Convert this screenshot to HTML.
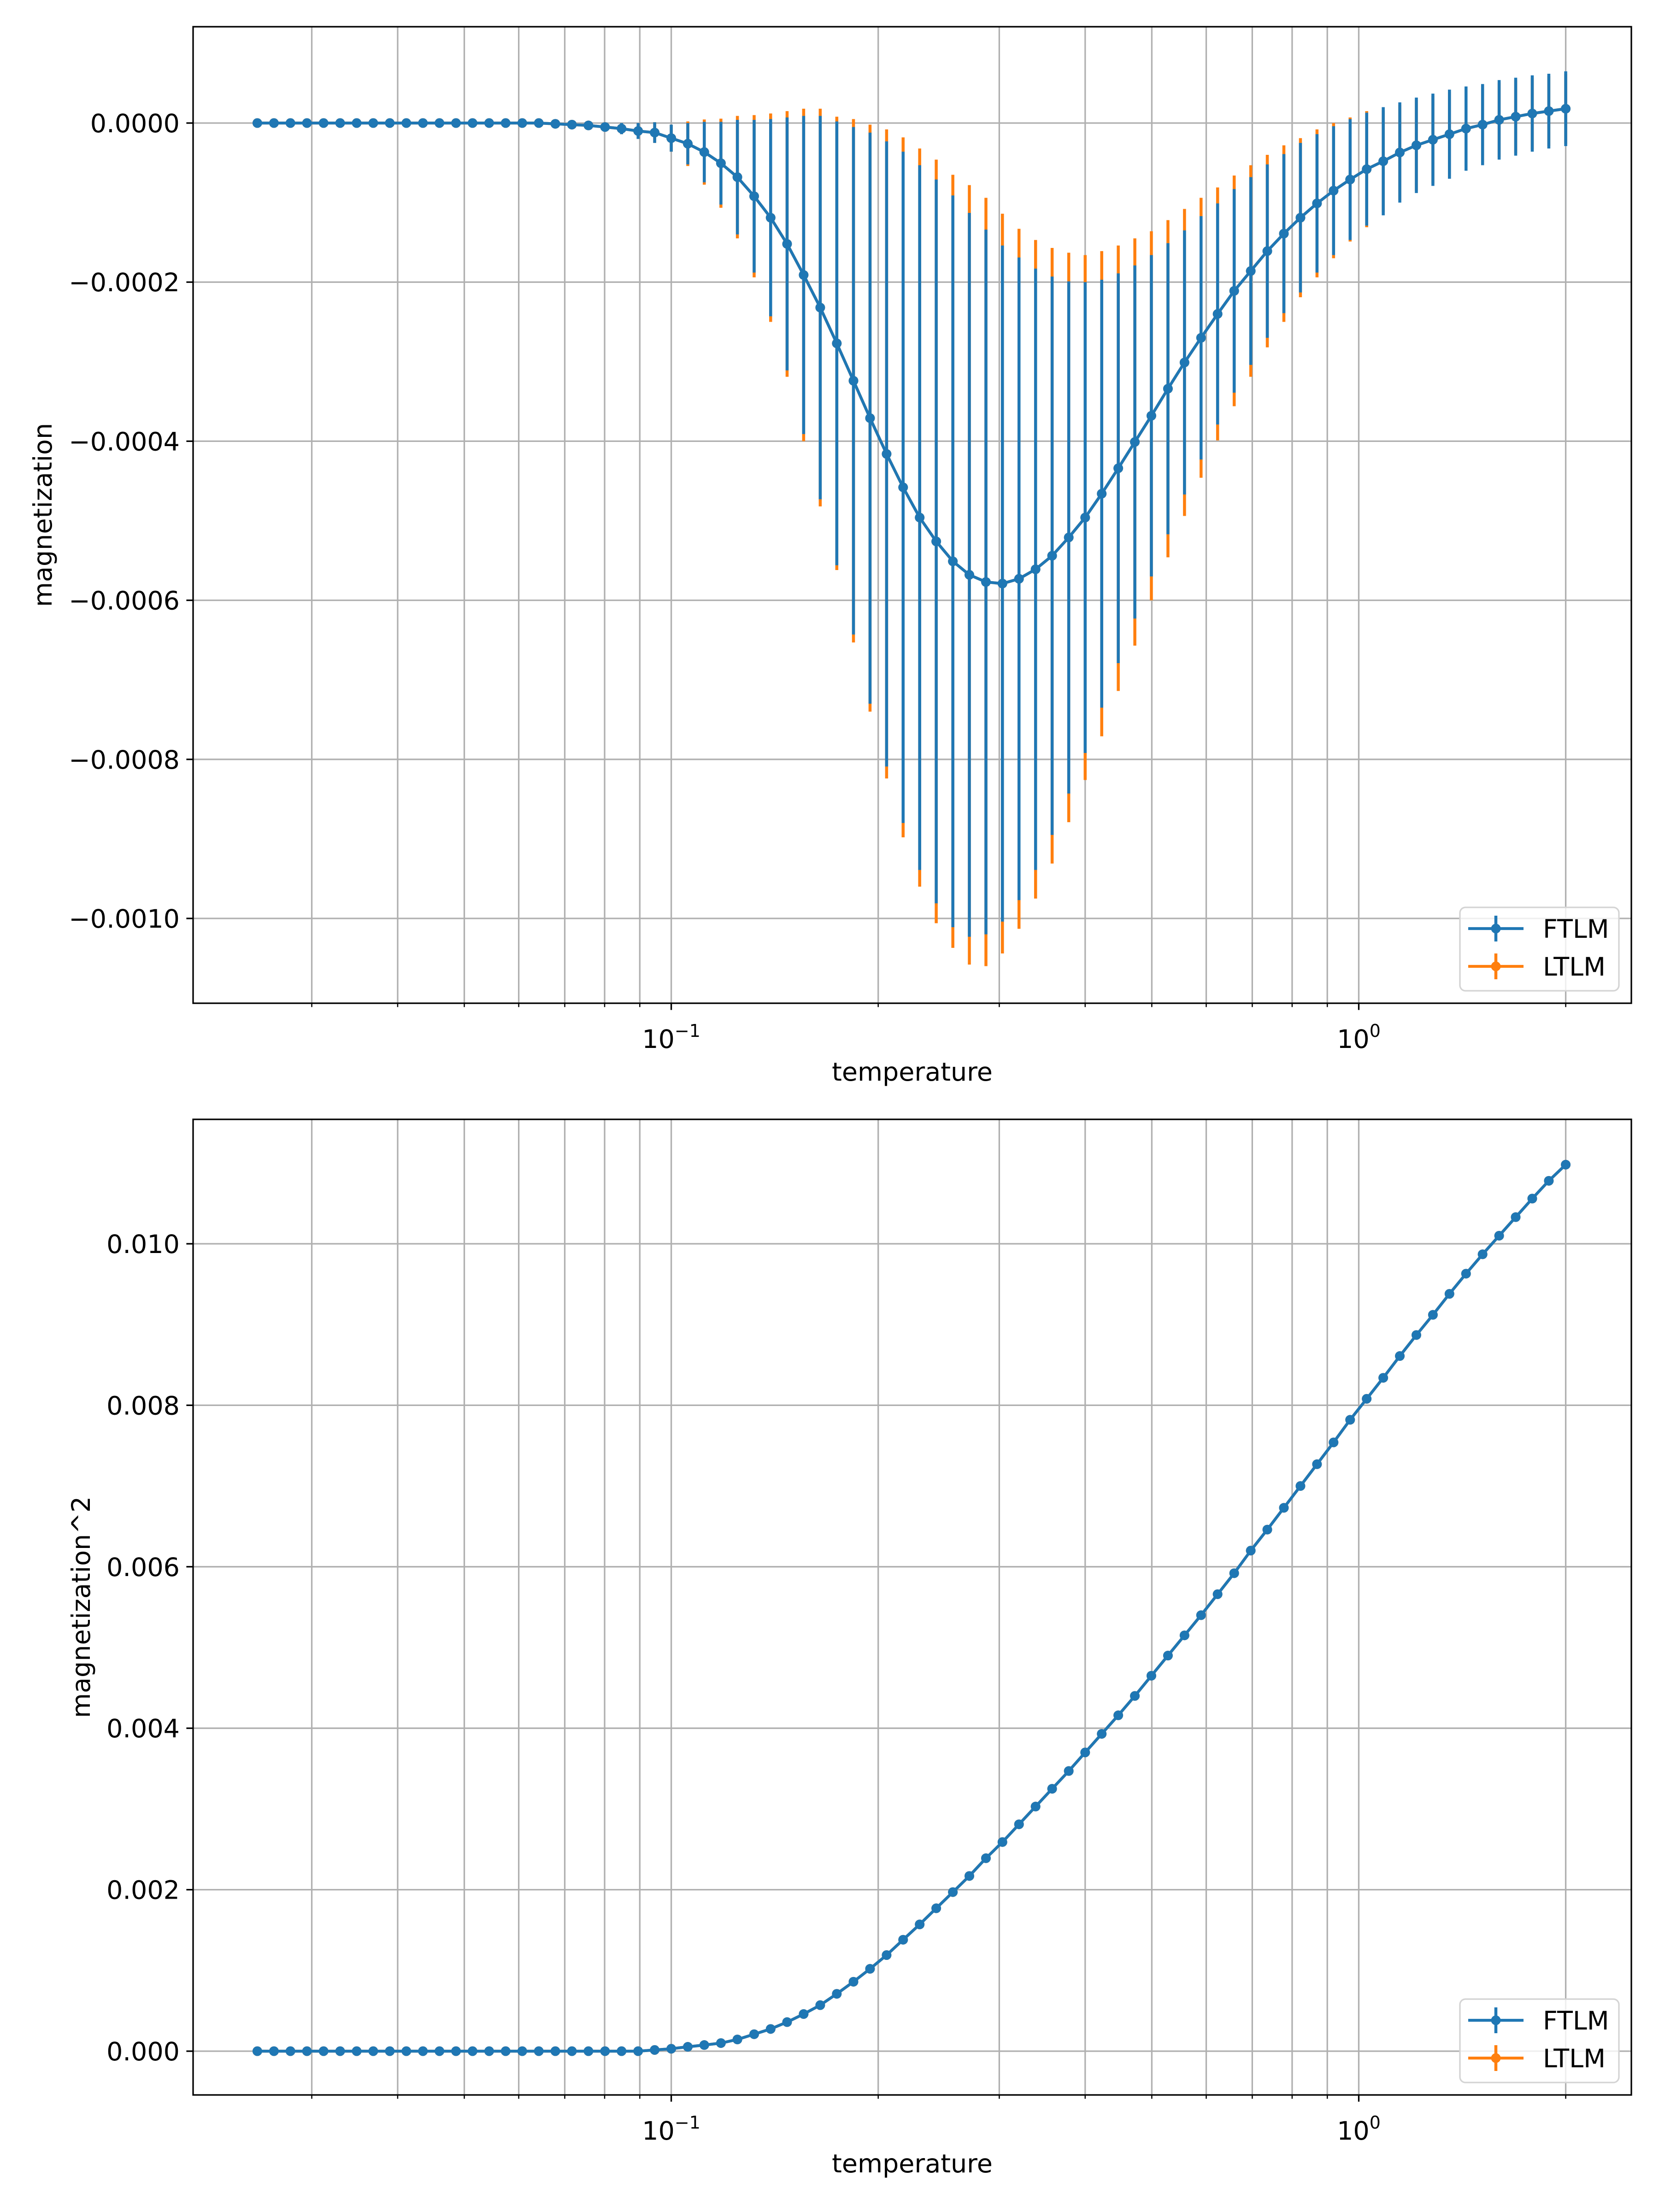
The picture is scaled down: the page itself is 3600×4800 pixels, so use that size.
<!DOCTYPE html>
<html><head><meta charset="utf-8"><style>
html,body{margin:0;padding:0;background:#fff;}
svg{display:block;font-family:"DejaVu Sans","Liberation Sans",sans-serif;}
</style></head><body>
<svg id="fig" width="3600" height="4800" viewBox="0 0 3600 4800" xmlns="http://www.w3.org/2000/svg">
<rect width="3600" height="4800" fill="#fff"/>
</svg>
<script>
const temperature=[0.025,0.02643,0.02793,0.02952,0.03121,0.03299,0.03487,0.03686,0.03896,0.04118,0.04353,0.04601,0.04863,0.05140,0.05434,0.05743,0.06071,0.06417,0.06783,0.07170,0.07578,0.08011,0.08467,0.08950,0.09460,0.1,0.1057,0.1117,0.1181,0.1248,0.1320,0.1395,0.1474,0.1558,0.1647,0.1741,0.1841,0.1946,0.2057,0.2174,0.2298,0.2429,0.2568,0.2714,0.2869,0.3032,0.3205,0.3388,0.3581,0.3786,0.4,0.4228,0.4469,0.4724,0.4993,0.5278,0.5579,0.5897,0.6233,0.6589,0.6965,0.7362,0.7782,0.8226,0.8695,0.9191,0.9715,1.0269,1.0855,1.1474,1.2128,1.2819,1.3550,1.4323,1.5140,1.6003,1.6915,1.7880,1.8900,2.0];
// magnetization in units of 1e-4
const magFTLM=[0,0,0,0,0,0,0,0,0,0,0,0,0,0,0,0,0,0,-0.01,-0.02,-0.03,-0.05,-0.07,-0.1,-0.12,-0.19,-0.26,-0.365,-0.505,-0.68,-0.92,-1.19,-1.52,-1.91,-2.32,-2.77,-3.24,-3.71,-4.16,-4.58,-4.96,-5.26,-5.51,-5.68,-5.77,-5.79,-5.73,-5.61,-5.44,-5.21,-4.96,-4.66,-4.34,-4.01,-3.68,-3.34,-3.01,-2.70,-2.40,-2.11,-1.86,-1.61,-1.39,-1.19,-1.01,-0.85,-0.71,-0.58,-0.48,-0.37,-0.28,-0.21,-0.14,-0.07,-0.02,0.04,0.08,0.12,0.15,0.18];
const magLTLM=magFTLM.slice();
const errFTLM=[0.005,0.005,0.005,0.005,0.005,0.005,0.005,0.005,0.005,0.005,0.005,0.005,0.005,0.005,0.005,0.005,0.01,0.015,0.02,0.03,0.04,0.05,0.07,0.1,0.13,0.17,0.26,0.38,0.52,0.72,0.96,1.24,1.59,2.0,2.41,2.79,3.19,3.59,3.93,4.22,4.43,4.55,4.6,4.55,4.43,4.25,4.04,3.78,3.51,3.22,2.96,2.69,2.45,2.22,2.02,1.83,1.66,1.53,1.39,1.28,1.18,1.09,1.0,0.94,0.87,0.81,0.76,0.71,0.68,0.63,0.60,0.58,0.56,0.53,0.51,0.50,0.49,0.48,0.47,0.47];
const errLTLM=[0.005,0.005,0.005,0.005,0.005,0.005,0.005,0.005,0.005,0.005,0.005,0.005,0.005,0.005,0.005,0.005,0.01,0.015,0.02,0.03,0.04,0.05,0.07,0.1,0.13,0.17,0.28,0.41,0.56,0.77,1.02,1.31,1.67,2.09,2.5,2.85,3.29,3.69,4.08,4.4,4.64,4.8,4.86,4.9,4.83,4.65,4.4,4.14,3.87,3.58,3.3,3.05,2.8,2.56,2.32,2.12,1.93,1.76,1.59,1.45,1.33,1.21,1.11,1.0,0.93,0.85,0.78,0.73,0.64,0.6,0.57,0.55,0.53,0.5,0.48,0.47,0.46,0.45,0.44,0.44];
// magnetization^2 in units of 1e-3
const mag2FTLM=[0,0,0,0,0,0,0,0,0,0,0,0,0,0,0,0,0,0,0,0,0,0,0,0,0.015,0.03,0.054,0.076,0.10,0.145,0.21,0.275,0.36,0.46,0.57,0.71,0.86,1.02,1.19,1.38,1.57,1.77,1.97,2.17,2.39,2.59,2.81,3.03,3.25,3.47,3.70,3.93,4.16,4.40,4.65,4.90,5.15,5.40,5.66,5.92,6.20,6.46,6.73,7.00,7.27,7.54,7.82,8.08,8.34,8.61,8.87,9.12,9.38,9.63,9.87,10.10,10.33,10.56,10.78,10.98];
const mag2LTLM=mag2FTLM.slice();
const topYTicks=[0,-0.0002,-0.0004,-0.0006,-0.0008,-0.0010];
const topYLabels=["0.0000","\u22120.0002","\u22120.0004","\u22120.0006","\u22120.0008","\u22120.0010"];
const botYTicks=[0,0.002,0.004,0.006,0.008,0.010];
const botYLabels=["0.000","0.002","0.004","0.006","0.008","0.010"];
const xMajor=[0.1,1];
const xMinor=[0.03,0.04,0.05,0.06,0.07,0.08,0.09,0.2,0.3,0.4,0.5,0.6,0.7,0.8,0.9,2];

const NS="http://www.w3.org/2000/svg";
const svg=document.getElementById('fig');
const BLUE="#1f77b4",ORANGE="#ff7f0e",GRID="#b0b0b0";
const FS=55.5;
const L=419,R=3540;
const xlo=-1.6955,xhi=0.3965;
function xs(t){return L+(Math.log10(t)-xlo)/(xhi-xlo)*(R-L);}
function mk(tag,attrs,parent){const e=document.createElementNS(NS,tag);for(const k in attrs)e.setAttribute(k,attrs[k]);(parent||svg).appendChild(e);return e;}

function panel(o){
  const g=mk('g',{});
  
  
  const ys=v=>o.y0+(v-o.v0)/(o.v1-o.v0)*(o.y1-o.y0);
  const grid=mk('g',{},g);
  
  
  xMajor.concat(xMinor).forEach(t=>{const x=xs(t);mk('line',{x1:x,x2:x,y1:o.top,y2:o.bot,stroke:GRID,'stroke-width':3.3},grid);});
  o.yt.forEach(v=>{const y=ys(v);mk('line',{x1:L,x2:R,y1:y,y2:y,stroke:GRID,'stroke-width':3.3},grid);});
  function series(vals,errs,col,nm){
    const sg=mk('g',{},g);
    
    
    if(errs){vals.forEach((v,i)=>{const x=xs(temperature[i]);const e=mk('line',{x1:x,x2:x,y1:ys((v+errs[i])*o.unit),y2:ys((v-errs[i])*o.unit),stroke:col,'stroke-width':6.5},sg);
      
      });}
    const pts=vals.map((v,i)=>xs(temperature[i]).toFixed(1)+','+ys(v*o.unit).toFixed(1)).join(' ');
    const pl=mk('polyline',{points:pts,fill:'none',stroke:col,'stroke-width':6.25,'stroke-linejoin':'round'},sg);
    
    
    vals.forEach((v,i)=>{const c=mk('circle',{cx:xs(temperature[i]),cy:ys(v*o.unit),r:10.5,fill:col},sg);
      
      });
  }
  series(o.ltlm,o.errL,ORANGE,o.name+'-ltlm-series');
  series(o.ftlm,o.errF,BLUE,o.name+'-ftlm-series');
  mk('rect',{x:L,y:o.top,width:R-L,height:o.bot-o.top,fill:'none',stroke:'#000','stroke-width':3.3},g);
  xMajor.forEach((t,k)=>{const x=xs(t);mk('line',{x1:x,x2:x,y1:o.bot,y2:o.bot+14.6,stroke:'#000','stroke-width':3.3},g);
    const tx=mk('text',{x:x,y:o.bot+97,'font-size':FS,'text-anchor':'middle',fill:'#000'},g);
    
    
    tx.appendChild(document.createTextNode('10'));
    const sp=mk('tspan',{dy:-24,'font-size':38},tx);sp.textContent=k===0?'\u22121':'0';});
  xMinor.forEach(t=>{const x=xs(t);mk('line',{x1:x,x2:x,y1:o.bot,y2:o.bot+8.3,stroke:'#000','stroke-width':2.5},g);});
  o.yt.forEach((v,i)=>{const y=ys(v);mk('line',{x1:L-14.6,x2:L,y1:y,y2:y,stroke:'#000','stroke-width':3.3},g);
    const t=mk('text',{x:L-29,y:y+20,'font-size':FS,'text-anchor':'end',fill:'#000'},g);
    
    
    t.textContent=o.yl[i];});
  const xl=mk('text',{x:(L+R)/2,y:o.xlabY,'font-size':FS,'text-anchor':'middle',fill:'#000'},g);
  
  
  xl.textContent='temperature';
  const cy=(o.top+o.bot)/2;
  const yl=mk('text',{x:o.ylabX,y:cy,'font-size':FS,'text-anchor':'middle',fill:'#000',transform:'rotate(-90 '+o.ylabX+' '+cy+')'},g);
  
  
  yl.textContent=o.ylabel;
  const lg=mk('g',{},g);
  
  
  const lt=o.bot-208;
  mk('rect',{x:3168,y:lt,width:345,height:181,rx:12,fill:'#fff','fill-opacity':0.8,stroke:'#d4d4d4','stroke-width':3.3},lg);
  [['FTLM',BLUE,46],['LTLM',ORANGE,128]].forEach(([lab,col,dy])=>{
    const en=mk('g',{},lg);
    
    
    const y=lt+dy;
    mk('line',{x1:3186,x2:3306,y1:y,y2:y,stroke:col,'stroke-width':6.25},en);
    mk('line',{x1:3246,x2:3246,y1:y-28,y2:y+28,stroke:col,'stroke-width':6.5},en);
    mk('circle',{cx:3246,cy:y,r:10.5,fill:col},en);
    const t=mk('text',{x:3348,y:y+20,'font-size':FS,fill:'#000'},en);t.textContent=lab;});
}
panel({name:'magnetization-panel',top:58,bot:2177,y0:267,v0:0,y1:1993,v1:-0.001,yt:topYTicks,yl:topYLabels,
  ftlm:magFTLM,ltlm:magLTLM,errF:errFTLM,errL:errLTLM,unit:1e-4,xlabY:2345,ylabX:112,ylabel:'magnetization'});
panel({name:'magnetization-squared-panel',top:2429,bot:4546,y0:4451,v0:0,y1:2699,v1:0.010,yt:botYTicks,yl:botYLabels,
  ftlm:mag2FTLM,ltlm:mag2LTLM,errF:null,errL:null,unit:1e-3,xlabY:4714,ylabX:195,ylabel:'magnetization^2'});
</script>
</body></html>
